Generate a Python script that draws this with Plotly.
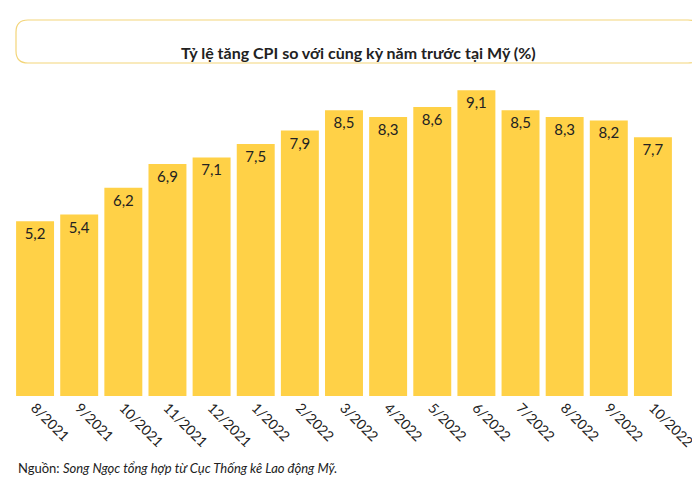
import plotly.graph_objects as go

months = ["8/2021","9/2021","10/2021","11/2021","12/2021","1/2022","2/2022","3/2022","4/2022","5/2022","6/2022","7/2022","8/2022","9/2022","10/2022"]
cpi = [5.2,5.4,6.2,6.9,7.1,7.5,7.9,8.5,8.3,8.6,9.1,8.5,8.3,8.2,7.7]
labels = [f"{v:.1f}".replace(".", ",") for v in cpi]

W, H = 700, 490
L, R, T, B = 5, 33, 60, 102
PW, PH = W - L - R, H - T - B
def px(x): return (x - L) / PW
def py(y): return (H - B - y) / PH

fig = go.Figure(go.Bar(
    x=months, y=cpi, text=labels, textposition="inside", insidetextanchor="end",
    textfont=dict(family="Lato", size=15, color="#222"),
    marker=dict(color="#FFD147", line_width=0), width=0.86))

x0, x1, y0, y1, r = 8, 692, 12, 55, 12
path = (f"M{px(x0+r)},{py(y0)} L{px(x1-r)},{py(y0)} Q{px(x1)},{py(y0)} {px(x1)},{py(y0+r)} "
        f"L{px(x1)},{py(y1-r)} Q{px(x1)},{py(y1)} {px(x1-r)},{py(y1)} L{px(x0+r)},{py(y1)} "
        f"Q{px(x0)},{py(y1)} {px(x0)},{py(y1-r)} L{px(x0)},{py(y0+r)} Q{px(x0)},{py(y0)} {px(x0+r)},{py(y0)} Z")

fig.update_layout(
    width=W, height=H, plot_bgcolor="white", paper_bgcolor="white",
    margin=dict(l=L, r=R, t=T, b=B), showlegend=False,
    font=dict(family="Lato", color="#222"),
    xaxis=dict(tickangle=45, tickfont=dict(size=14, color="#222"), showline=False, ticks=""),
    yaxis=dict(visible=False, range=[0, 9.76]),
    shapes=[dict(type="path", xref="paper", yref="paper", path=path,
                 line=dict(color="#F3D57A", width=1.2), layer="below")],
    annotations=[
        dict(text="<b>Tỷ lệ tăng CPI so với cùng kỳ năm trước tại Mỹ (%)</b>", xref="paper", yref="paper",
             x=px(350), y=py(33), showarrow=False, font=dict(size=16, family="Lato", color="#222")),
        dict(text="Nguồn: <i>Song Ngọc tổng hợp từ Cục Thống kê Lao động Mỹ.</i>", xref="paper", yref="paper",
             x=px(8), y=py(470), xanchor="left", showarrow=False, font=dict(size=13, family="Lato", color="#222")),
    ])
fig.write_html("out.html")
